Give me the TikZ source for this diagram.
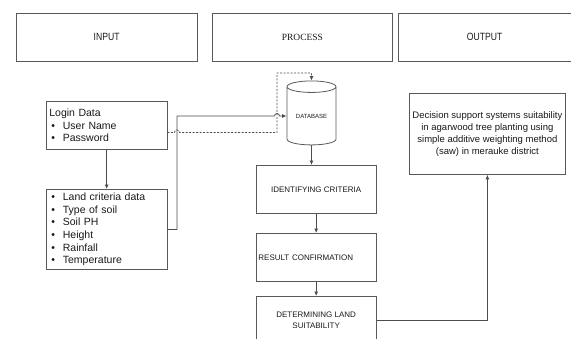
\documentclass[tikz,border=0pt]{standalone}
\usepackage{fontspec}
\setmainfont{Liberation Sans}
\newfontfamily\serifface{Liberation Serif}
\newfontfamily\narrowface[FakeStretch=0.82]{Liberation Sans}
\usetikzlibrary{shapes.geometric,arrows.meta}

\newcommand{\bulletitem}[1]{\hspace*{2pt}\makebox[11.5pt][l]{\textbullet}#1}

\begin{document}
\begin{tikzpicture}[
            x=1pt, y=-1pt,
            stage_box/.style={draw=black!65, line width=0.8pt, anchor=north west, minimum height=48pt, inner sep=0pt, text=black!90},
            info_box/.style={draw=black!65, line width=0.8pt, anchor=north west, minimum width=120.5pt, text width=114.5pt, align=left, inner xsep=3pt, inner ysep=0pt, font=\fontsize{10.5}{12.6}\selectfont, text=black!90},
            proc_box/.style={draw=black!65, line width=0.8pt, anchor=north west, minimum width=120.5pt, minimum height=48pt, align=center, inner sep=2pt, font=\fontsize{8}{11}\selectfont, text=black!90},
            db_node/.style={cylinder, shape border rotate=90, aspect=0.37, draw=black!65, line width=0.8pt, minimum width=49pt, minimum height=64pt, inner sep=0pt, font=\fontsize{6}{7}\selectfont, text=black!90},
            flow_edge/.style={draw=black!70, line width=0.8pt, -{Latex[length=4.5pt,width=4pt]}},
            dash_edge/.style={flow_edge, dash pattern=on 2pt off 1.5pt}
        ]

        \useasboundingbox (0,0) rectangle (571,338);
        \clip (0,0) rectangle (571,338);

        % Stage headers
        \node[stage_box, minimum width=181.5pt, font=\narrowface\fontsize{10.5}{12}\selectfont] (input) at (15.5,12.5) {INPUT};
        \node[stage_box, minimum width=180pt, font=\serifface\fontsize{9.5}{11}\selectfont] (process) at (212,12.5) {PROCESS};
        \node[stage_box, minimum width=172.5pt, font=\narrowface\fontsize{10.5}{12}\selectfont] (output) at (398,12.5) {OUTPUT};

        % Input data
        \node[info_box, minimum height=48pt] (login) at (46,101) {Login Data\\ \bulletitem{User Name}\\ \bulletitem{Password}};
        \node[info_box, minimum height=80pt] (land) at (46,189) {\bulletitem{Land criteria data}\\ \bulletitem{Type of soil}\\ \bulletitem{Soil PH}\\ \bulletitem{Height}\\ \bulletitem{Rainfall}\\ \bulletitem{Temperature}};

        % Process steps
        \node[db_node] (db) at (311.5,116) {DATABASE};
        \node[proc_box] (ident) at (255.5,165) {IDENTIFYING CRITERIA};
        \node[proc_box, text width=115.5pt, align=left, inner xsep=2.5pt] (result) at (255.5,233) {RESULT CONFIRMATION};
        \node[proc_box] (determ) at (255.5,296) {DETERMINING LAND\\SUITABILITY};

        % Result
        \node[proc_box, minimum width=156pt, minimum height=81pt, font=\fontsize{9.5}{12}\selectfont] (outbox) at (409,93) {Decision support systems suitability\\in agarwood tree planting using\\simple additive weighting method\\(saw) in merauke district};

        % Bend points
        \coordinate (land_bend) at (177,0);
        \coordinate (dash_bend) at (277,73);

        % Connectors
        \draw[flow_edge] (login.south) -- (land.north);
        \draw[flow_edge] (land.east) -| (land_bend |- db.west) -- ([xshift=-2.5pt]dash_bend |- db.west) arc[start angle=180, end angle=0, radius=2.5pt] -- (db.west);
        \draw[dash_edge] ([yshift=-7pt]login.east) -- ([yshift=-7pt, xshift=-2.5pt]login.east -| land_bend) arc[start angle=180, end angle=0, radius=2.5pt] -- ([yshift=-7pt]login.east -| dash_bend) -- (dash_bend) -| (db.north);
        \draw[flow_edge] (db.south) -- (db.south |- ident.north);
        \draw[flow_edge] (ident.south) -- (result.north);
        \draw[flow_edge] (result.south) -- (determ.north);
        \draw[flow_edge] (determ.east) -| (outbox.south);

    \end{tikzpicture}
\end{document}
